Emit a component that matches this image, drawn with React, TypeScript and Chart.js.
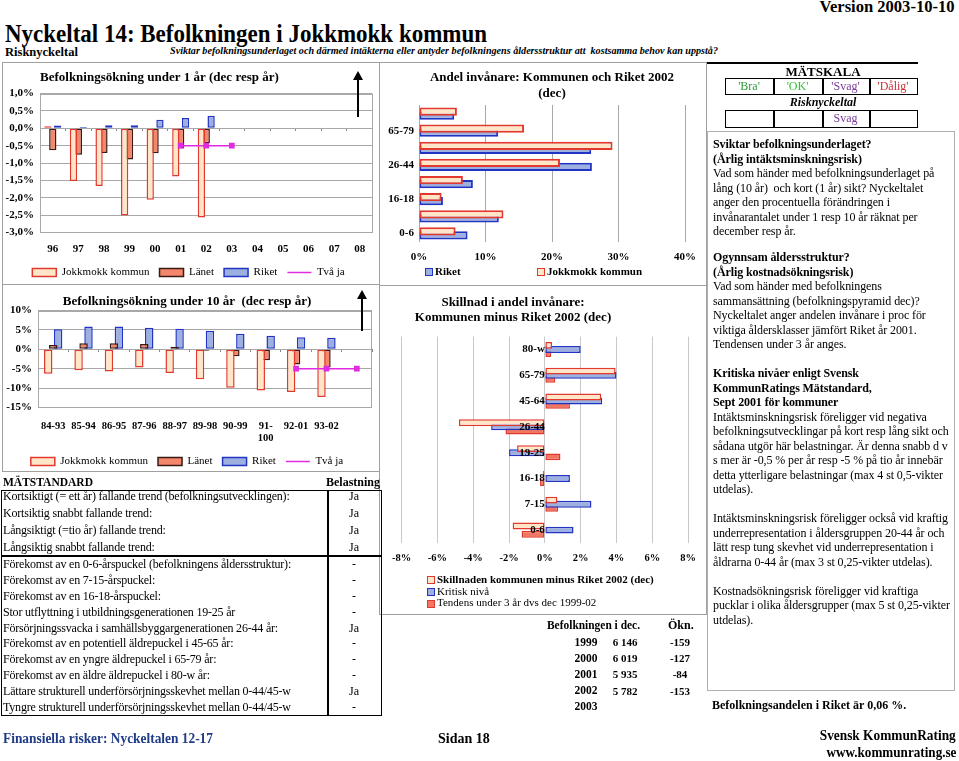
import React, { useEffect, useRef } from 'react';
import { Chart, registerables } from 'chart.js';
Chart.register(...registerables);

const SERIF = "'Liberation Serif', 'Times New Roman', serif";
Chart.defaults.font.family = SERIF;
Chart.defaults.color = '#000';

// ---------- DATA ----------
const YEARS_1 = ['96', '97', '98', '99', '00', '01', '02', '03', '04', '05', '06', '07', '08'];
const JOKK_1 = [0.06, -1.52, -1.66, -2.51, -2.06, -1.39, -2.57, null, null, null, null, null, null];
const LAN_1 = [-0.63, -0.76, -0.71, -0.9, -0.72, -0.58, -0.43, null, null, null, null, null, null];
const RIKET_1 = [0.08, 0.04, 0.09, 0.09, 0.25, 0.3, 0.36, null, null, null, null, null, null];
const TVAJA_1 = [null, null, null, null, null, -0.5, -0.5, -0.5, null, null, null, null, null];

const PERIODS_10: any[] = ['84-93', '85-94', '86-95', '87-96', '88-97', '89-98', '90-99', ['91-', '100'], '92-01', '93-02', ''];
const JOKK_10 = [-6.3, -5.4, -5.7, -4.7, -6.1, -7.7, -9.9, -10.6, -11.0, -12.3, null];
const LAN_10 = [1.1, 1.6, 1.6, 1.4, 0.7, -0.35, -1.8, -2.8, -3.9, -4.7, null];
const RIKET_10 = [5.2, 5.9, 5.9, 5.6, 5.3, 4.8, 4.0, 3.5, 3.1, 3.0, null];
const TVAJA_10 = [null, null, null, null, null, null, null, null, -5, -5, -5];

const AGE_GROUPS = ['80-w', '65-79', '45-64', '26-44', '19-25', '16-18', '7-15', '0-6'];
const SHARE_JOKK = [5.7, 15.8, 29.1, 21.2, 6.6, 3.4, 12.7, 5.5];
const SHARE_RIKET = [5.3, 11.9, 25.9, 26.0, 8.1, 3.6, 12.0, 7.3];
const DIFF = [0.4, 3.95, 3.15, -4.8, -1.55, -0.1, 0.7, -1.8];
const KRITISK = [2.0, 4.0, 3.2, -3.0, -2.0, 1.4, 2.6, 1.6];
const TENDENS = [0.35, 0.58, 1.4, -2.2, 0.87, -0.27, 0.74, -1.3];

const STANDARD_ROWS = [
  'Kortsiktigt (= ett år) fallande trend (befolkningsutvecklingen):',
  'Kortsiktig snabbt fallande trend:',
  'Långsiktigt (=tio år) fallande trend:',
  'Långsiktig snabbt fallande trend:',
  'Förekomst av en 0-6-årspuckel (befolkningens åldersstruktur):',
  'Förekomst av en 7-15-årspuckel:',
  'Förekomst av en 16-18-årspuckel:',
  'Stor utflyttning i utbildningsgenerationen 19-25 år',
  'Försörjningssvacka i samhällsbyggargenerationen 26-44 år:',
  'Förekomst av en potentiell äldrepuckel i 45-65 år:',
  'Förekomst av en yngre äldrepuckel i 65-79 år:',
  'Förekomst av en äldre äldrepuckel i 80-w år:',
  'Lättare strukturell underförsörjningsskevhet mellan 0-44/45-w',
  'Tyngre strukturell underförsörjningsskevhet mellan 0-44/45-w',
];
const STANDARD_VALUES = ['Ja', 'Ja', 'Ja', 'Ja', '-', '-', '-', '-', 'Ja', '-', '-', '-', 'Ja', '-'];

const POP_YEARS = ['1999', '2000', '2001', '2002', '2003'];
const POP_VALUES = ['6 146', '6 019', '5 935', '5 782', ''];
const POP_CHANGE = ['-159', '-127', '-84', '-153', ''];

const SCALE_LABELS = ["'Bra'", "'OK'", "'Svag'", "'Dålig'"];
const SCALE_COLORS = ['#2f9a3a', '#34c234', '#7a3a9a', '#c8323a'];
const RISK_ROW = ['', '', 'Svag', ''];

const RIGHT_BLOCK_1: [string, boolean][] = [
  ['Sviktar befolkningsunderlaget?', true],
  ['(Årlig intäktsminskningsrisk)', true],
  ['Vad som händer med befolkningsunderlaget på', false],
  ['lång (10 år)  och kort (1 år) sikt? Nyckeltalet', false],
  ['anger den procentuella förändringen i', false],
  ['invånarantalet under 1 resp 10 år räknat per', false],
  ['december resp år.', false],
];
const RIGHT_BLOCK_2: [string, boolean][] = [
  ['Ogynnsam åldersstruktur?', true],
  ['(Årlig kostnadsökningsrisk)', true],
  ['Vad som händer med befolkningens', false],
  ['sammansättning (befolkningspyramid dec)?', false],
  ['Nyckeltalet anger andelen invånare i proc för', false],
  ['viktiga åldersklasser jämfört Riket år 2001.', false],
  ['Tendensen under 3 år anges.', false],
  ['', false],
  ['Kritiska nivåer enligt Svensk', true],
  ['KommunRatings Mätstandard,', true],
  ['Sept 2001 för kommuner', true],
  ['Intäktsminskningsrisk föreligger vid negativa', false],
  ['befolkningsutvecklingar på kort resp lång sikt och', false],
  ['sådana utgör här belastningar. Är denna snabb d v', false],
  ['s mer är -0,5 % per år resp -5 % på tio år innebär', false],
  ['detta ytterligare belastningar (max 4 st 0,5-vikter', false],
  ['utdelas).', false],
  ['', false],
  ['Intäktsminskningsrisk föreligger också vid kraftig', false],
  ['underrepresentation i åldersgruppen 20-44 år och', false],
  ['lätt resp tung skevhet vid underrepresentation i', false],
  ['åldrarna 0-44 år (max 3 st 0,25-vikter utdelas).', false],
  ['', false],
  ['Kostnadsökningsrisk föreligger vid kraftiga', false],
  ['pucklar i olika åldersgrupper (max 5 st 0,25-vikter', false],
  ['utdelas).', false],
];

// ---------- STYLE ----------
const PEACH = '#FFE6C9';
const RED = '#E2392F';
const SALMON = '#F4866C';
const DARK = '#3a1a12';
const BLUE_FILL = '#9DB0E0';
const BLUE = '#2234C4';
const MAGENTA = '#E02CE0';
const GRID = '#A8A8A8';
const GRID_LIGHT = '#C8C8C8';
const TENDENS_FILL = '#F27762';

const mctx: any = document.createElement('canvas').getContext('2d');
function measure(text: string, font: string) {
  mctx.font = font;
  return mctx.measureText(text).width;
}

function Txt({ x, y, text, size = 12, bold = false, italic = false, color = '#000', align = 'left', w, ls }: any) {
  const font = `${italic ? 'italic ' : ''}${bold ? 'bold ' : ''}${size}px ${SERIF}`;
  let sx = 1;
  if (w) sx = w / measure(text, font);
  const style: any = {
    position: 'absolute',
    top: y - size * 0.55,
    fontFamily: SERIF,
    fontSize: size,
    fontWeight: bold ? 'bold' : 'normal',
    fontStyle: italic ? 'italic' : 'normal',
    lineHeight: `${size}px`,
    whiteSpace: 'pre',
    color,
  };
  if (ls) style.letterSpacing = ls;
  if (align === 'left') {
    style.left = x;
    style.transformOrigin = 'left center';
    style.transform = `scaleX(${sx})`;
  } else if (align === 'right') {
    style.right = 959 - x;
    style.transformOrigin = 'right center';
    style.transform = `scaleX(${sx})`;
  } else {
    style.left = x;
    style.transformOrigin = 'center';
    style.transform = `translateX(-50%) scaleX(${sx})`;
  }
  return <div style={style}>{text}</div>;
}

function Box({ x1, y1, x2, y2, color = '#999', w = 1 }: any) {
  return (
    <div
      style={{
        position: 'absolute',
        left: x1,
        top: y1,
        width: x2 - x1,
        height: y2 - y1,
        border: `${w}px solid ${color}`,
        boxSizing: 'border-box',
      }}
    />
  );
}
function HL({ x1, x2, y, color = '#999', w = 1 }: any) {
  return <div style={{ position: 'absolute', left: x1, top: y, width: x2 - x1, height: w, background: color }} />;
}
function VL({ x, y1, y2, color = '#999', w = 1 }: any) {
  return <div style={{ position: 'absolute', left: x, top: y1, width: w, height: y2 - y1, background: color }} />;
}

const plotBorder = {
  id: 'plotBorder',
  beforeDatasetsDraw(chart: any, _args: any, opts: any) {
    if (!opts || !opts.color) return;
    const { ctx, chartArea: a } = chart;
    ctx.save();
    ctx.strokeStyle = opts.color;
    ctx.lineWidth = 1;
    ctx.strokeRect(Math.round(a.left) + 0.5, Math.round(a.top) + 0.5, Math.round(a.width) - 1, Math.round(a.height) - 1);
    ctx.restore();
  },
};

const legendLabels = (chart: any) => {
  const items = (Chart.defaults.plugins.legend.labels as any).generateLabels(chart);
  return items.map((it: any) => {
    const ds = chart.data.datasets[it.datasetIndex];
    return { ...it, pointStyle: ds.type === 'line' ? 'line' : 'rect' };
  });
};

const tickFont = (size = 11) => ({ size, weight: 'bold' as const });

function ChartCanvas({ left, top, width, height, make }: any) {
  const ref = useRef<HTMLCanvasElement>(null);
  useEffect(() => {
    const chart = new Chart(ref.current as any, make());
    return () => chart.destroy();
  }, []);
  return (
    <canvas
      ref={ref}
      width={width}
      height={height}
      style={{ position: 'absolute', left, top, width, height }}
    />
  );
}

function barDs(label: string, data: any[], bg: string, border: string, bw = 1.5) {
  return { label, data, backgroundColor: bg, borderColor: border, borderWidth: bw, borderSkipped: false };
}

function lineDs(label: string, data: any[]) {
  return {
    type: 'line',
    label,
    data,
    borderColor: MAGENTA,
    backgroundColor: MAGENTA,
    borderWidth: 1.5,
    pointStyle: 'rect',
    pointRadius: 3,
    order: -1,
  };
}

function growthChart(opts: any) {
  return () => ({
    type: 'bar',
    data: {
      labels: opts.labels,
      datasets: [
        barDs('Jokkmokk kommun', opts.jokk, PEACH, RED),
        barDs('Länet', opts.lan, SALMON, DARK),
        barDs('Riket', opts.riket, BLUE_FILL, BLUE),
        lineDs('Två ja', opts.tva),
      ],
    },
    options: {
      responsive: false,
      animation: false,
      datasets: { bar: { categoryPercentage: opts.catPct, barPercentage: opts.barPct } },
      layout: { padding: { right: opts.padRight } },
      plugins: {
        title: {
          display: true,
          text: opts.title,
          align: opts.titleAlign,
          fullSize: opts.titleFull,
          color: '#000',
          font: { size: 13, weight: 'bold' },
          padding: opts.titlePad,
        },
        legend: {
          position: 'bottom',
          labels: {
            usePointStyle: true,
            pointStyleWidth: 24,
            boxHeight: 8,
            padding: 10,
            color: '#000',
            font: { size: 11 },
            generateLabels: legendLabels,
            sort: (a: any, b: any) => a.datasetIndex - b.datasetIndex,
          },
        },
        tooltip: { enabled: false },
        plotBorder: { color: GRID },
      },
      scales: {
        x: {
          grid: { display: false, drawTicks: false },
          border: { display: false },
          ticks: { font: tickFont(opts.xFont), padding: opts.xPad, autoSkip: false, maxRotation: 0, color: '#000' },
          afterFit: (s: any) => {
            s.height = opts.xHeight;
          },
        },
        x2: {
          type: 'category',
          position: { y: 0 },
          offset: true,
          grid: { offset: true, drawOnChartArea: false, tickLength: 3, color: '#888' },
          border: { display: false },
          ticks: { display: false },
        },
        y: {
          min: opts.min,
          max: opts.max,
          ticks: { stepSize: opts.step, callback: opts.fmt, font: tickFont(11), padding: 6, color: '#000' },
          grid: { color: GRID, drawTicks: false },
          border: { display: false },
          afterFit: (s: any) => {
            s.width = opts.yWidth;
          },
        },
      },
    },
    plugins: [plotBorder],
  });
}

const makeChart1 = growthChart({
  labels: YEARS_1,
  jokk: JOKK_1,
  lan: LAN_1,
  riket: RIKET_1,
  tva: TVAJA_1,
  catPct: 0.57,
  barPct: 1.5,
  padRight: 3,
  title: 'Befolkningsökning under 1 år (dec resp år)',
  titleAlign: 'start',
  titleFull: false,
  titlePad: { top: 6, bottom: 8 },
  xFont: 11,
  xPad: 10,
  xHeight: 24.5,
  min: -3,
  max: 1,
  step: 0.5,
  fmt: (v: number) => v.toFixed(1).replace('.', ',') + '%',
  yWidth: 38,
});

const makeChart2 = growthChart({
  labels: PERIODS_10,
  jokk: JOKK_10,
  lan: LAN_10,
  riket: RIKET_10,
  tva: TVAJA_10,
  catPct: 0.49,
  barPct: 1.7,
  padRight: 6,
  title: 'Befolkningsökning under 10 år  (dec resp år)',
  titleAlign: 'center',
  titleFull: true,
  titlePad: { top: 8, bottom: 1 },
  xFont: 10.5,
  xPad: 12,
  xHeight: 38.5,
  min: -15,
  max: 10,
  step: 5,
  fmt: (v: number) => v + '%',
  yWidth: 36,
});

const makeChart3 = () => ({
  type: 'bar',
  data: {
    labels: AGE_GROUPS,
    datasets: [
      barDs('Jokkmokk kommun', SHARE_JOKK, PEACH, RED, 2),
      barDs('Riket', SHARE_RIKET, BLUE_FILL, BLUE, 2),
    ],
  },
  options: {
    indexAxis: 'y',
    responsive: false,
    animation: false,
    datasets: { bar: { categoryPercentage: 0.47, barPercentage: 2.05 } },
    layout: { padding: { right: 4 } },
    plugins: {
      title: {
        display: true,
        text: ['Andel invånare: Kommunen och Riket 2002', '(dec)'],
        fullSize: false,
        color: '#000',
        font: { size: 13, weight: 'bold', lineHeight: 1.23 },
        padding: { top: 6, bottom: 3 },
      },
      legend: { display: false },
      tooltip: { enabled: false },
    },
    scales: {
      x: {
        min: 0,
        max: 40,
        ticks: { stepSize: 10, callback: (v: number) => v + '%', font: tickFont(11), padding: 9, color: '#000' },
        grid: { color: GRID, drawTicks: false },
        border: { display: false },
        afterFit: (s: any) => {
          s.height = 24;
        },
      },
      y: {
        ticks: {
          autoSkip: false,
          callback: (_v: any, i: number) => (i % 2 === 1 ? AGE_GROUPS[i] : ''),
          font: tickFont(11),
          padding: 5,
          color: '#000',
        },
        grid: { display: false, drawTicks: false },
        border: { display: false },
        afterFit: (s: any) => {
          s.width = 36;
        },
      },
    },
  },
});

const makeChart4 = () => ({
  type: 'bar',
  data: {
    labels: AGE_GROUPS,
    datasets: [
      barDs('Skillnaden kommunen minus Riket 2002 (dec)', DIFF, PEACH, RED, 1.5),
      barDs('Kritisk nivå', KRITISK, BLUE_FILL, BLUE, 1.5),
      barDs('Tendens under 3 år dvs dec 1999-02', TENDENS, TENDENS_FILL, RED, 1.5),
    ],
  },
  options: {
    indexAxis: 'y',
    responsive: false,
    animation: false,
    datasets: { bar: { categoryPercentage: 0.48, barPercentage: 1.67 } },
    layout: { padding: { left: 3, right: 6, top: 6 } },
    plugins: { legend: { display: false }, tooltip: { enabled: false } },
    scales: {
      x: {
        min: -8,
        max: 8,
        ticks: { stepSize: 2, callback: (v: number) => v + '%', font: tickFont(10.5), padding: 9, color: '#000' },
        grid: { color: GRID_LIGHT, drawTicks: false },
        border: { display: false },
        afterFit: (s: any) => {
          s.height = 24;
        },
      },
      y: {
        position: { x: 0 },
        ticks: { font: tickFont(11), padding: 0, color: '#000', autoSkip: false, z: 1 },
        grid: { display: false, drawTicks: false },
        border: { display: false },
      },
    },
  },
});

function LegendSwatch({ x, y, fill, border }: any) {
  return (
    <div
      style={{
        position: 'absolute',
        left: x,
        top: y - 4,
        width: 8,
        height: 8,
        background: fill,
        border: `1.5px solid ${border}`,
        boxSizing: 'border-box',
      }}
    />
  );
}

function Arrows() {
  return (
    <svg width={959} height={761} style={{ position: 'absolute', left: 0, top: 0, pointerEvents: 'none' }}>
      <line x1={358} y1={117} x2={358} y2={78} stroke="#000" strokeWidth={2} />
      <polygon points="353,80 363,80 358,71" fill="#000" />
      <line x1={362} y1={331} x2={362} y2={297} stroke="#000" strokeWidth={2} />
      <polygon points="357,299 367,299 362,290" fill="#000" />
    </svg>
  );
}

export default function App() {
  const rowYs = STANDARD_ROWS.map((_, i) => (i < 4 ? 497 + i * 16.8 : 564.5 + (i - 4) * 15.9));
  const cellXs = [725, 773, 822, 869, 917];
  return (
    <div
      style={{
        position: 'absolute',
        left: 0,
        top: 0,
        width: 959,
        height: 761,
        background: '#fff',
        overflow: 'hidden',
        fontFamily: SERIF,
      }}
    >
      {/* Header */}
      <Txt x={955} y={8} text="Version 2003-10-10" size={16} bold align="right" w={135} />
      <Txt x={5} y={35} text="Nyckeltal 14: Befolkningen i Jokkmokk kommun" size={25} bold w={482} />
      <Txt x={5} y={52} text="Risknyckeltal" size={13} bold w={73} />
      <Txt
        x={170}
        y={52}
        text="Sviktar befolkningsunderlaget och därmed intäkterna eller antyder befolkningens åldersstruktur att  kostsamma behov kan uppstå?"
        size={10.5}
        bold
        italic
        w={548}
      />

      {/* Panel frames */}
      <Box x1={2} y1={62} x2={380} y2={472} color="#a0a0a0" />
      <HL x1={2} x2={380} y={284} color="#a0a0a0" />
      <Box x1={379} y1={62} x2={707} y2={615} color="#a0a0a0" />
      <HL x1={379} x2={707} y={285} color="#a0a0a0" />
      <HL x1={707} x2={918} y={62} color="#000" w={1.5} />
      <Box x1={707} y1={131} x2={955} y2={691} color="#b0b0b0" />

      {/* Charts */}
      <ChartCanvas left={2} top={64} width={376} height={224} make={makeChart1} />
      <ChartCanvas left={2} top={286} width={376} height={191} make={makeChart2} />
      <ChartCanvas left={383} top={64} width={322} height={202} make={makeChart3} />
      <ChartCanvas left={383} top={330} width={322} height={237} make={makeChart4} />
      <Arrows />

      {/* Chart 3 legend */}
      <LegendSwatch x={425} y={272} fill={BLUE_FILL} border={BLUE} />
      <Txt x={435} y={272} text="Riket" size={11} bold />
      <LegendSwatch x={537} y={272} fill={PEACH} border={RED} />
      <Txt x={547} y={272} text="Jokkmokk kommun" size={11} bold />

      {/* Chart 4 title + legend */}
      <Txt x={513} y={302} text="Skillnad i andel invånare:" size={13} bold align="center" />
      <Txt x={513} y={317} text="Kommunen minus Riket 2002 (dec)" size={13} bold align="center" />
      <LegendSwatch x={427} y={580} fill={PEACH} border={RED} />
      <Txt x={437} y={580} text="Skillnaden kommunen minus Riket 2002 (dec)" size={11} bold />
      <LegendSwatch x={427} y={592} fill={BLUE_FILL} border={BLUE} />
      <Txt x={437} y={592} text="Kritisk nivå" size={11} />
      <LegendSwatch x={427} y={603.5} fill={TENDENS_FILL} border={RED} />
      <Txt x={437} y={603.5} text="Tendens under 3 år dvs dec 1999-02" size={11} />

      {/* MÄTSTANDARD table */}
      <Txt x={3} y={483} text="MÄTSTANDARD" size={12} bold w={90} />
      <Txt x={326} y={483} text="Belastning" size={12} bold w={54} />
      <Box x1={1} y1={490} x2={382} y2={716} color="#000" w={1.5} />
      <VL x={327} y1={490} y2={716} color="#000" w={1.5} />
      <HL x1={1} x2={382} y={555} color="#000" w={1.5} />
      {STANDARD_ROWS.map((r, i) => (
        <Txt key={'r' + i} x={3} y={rowYs[i]} text={r} size={12} ls="-0.2px" />
      ))}
      {STANDARD_VALUES.map((v, i) => (
        <Txt key={'v' + i} x={354} y={rowYs[i]} text={v} size={12} align="center" />
      ))}

      {/* Population table */}
      <Txt x={547} y={626} text="Befolkningen i dec." size={12} bold w={93} />
      <Txt x={668} y={626} text="Ökn." size={12} bold />
      {POP_YEARS.map((yv, i) => (
        <Txt key={'py' + i} x={586} y={643 + i * 16.2} text={yv} size={11.5} bold align="center" />
      ))}
      {POP_VALUES.map((v, i) => (
        <Txt key={'pv' + i} x={625} y={643 + i * 16.2} text={v} size={11} bold align="center" />
      ))}
      {POP_CHANGE.map((v, i) => (
        <Txt key={'pc' + i} x={680} y={643 + i * 16.2} text={v} size={11} bold align="center" />
      ))}

      {/* MÄTSKALA */}
      <Txt x={823} y={72} text="MÄTSKALA" size={13} bold align="center" />
      <Box x1={725} y1={78} x2={918} y2={95} color="#000" w={1.5} />
      <Box x1={725} y1={110} x2={918} y2={128} color="#000" w={1.5} />
      {[773, 822, 869].map((x) => (
        <React.Fragment key={'c' + x}>
          <VL x={x} y1={78} y2={95} color="#000" w={1.5} />
          <VL x={x} y1={110} y2={128} color="#000" w={1.5} />
        </React.Fragment>
      ))}
      {SCALE_LABELS.map((s, i) => (
        <Txt key={'s' + i} x={(cellXs[i] + cellXs[i + 1]) / 2} y={86.5} text={s} size={12} color={SCALE_COLORS[i]} align="center" />
      ))}
      <Txt x={823} y={103} text="Risknyckeltal" size={12} bold italic align="center" />
      {RISK_ROW.map((s, i) =>
        s ? (
          <Txt key={'k' + i} x={(cellXs[i] + cellXs[i + 1]) / 2} y={119} text={s} size={12} color={SCALE_COLORS[i]} align="center" />
        ) : null
      )}

      {/* Right text column */}
      {RIGHT_BLOCK_1.map(([t, b], i) => (
        <Txt key={'a' + i} x={713} y={145 + i * 14.5} text={t} size={12} bold={b} ls="-0.1px" />
      ))}
      {RIGHT_BLOCK_2.map(([t, b], i) => (
        <Txt key={'b' + i} x={713} y={258 + i * 14.5} text={t} size={12} bold={b} ls="-0.1px" />
      ))}
      <Txt x={712} y={706} text="Befolkningsandelen i Riket är 0,06 %." size={12} bold />

      {/* Footer */}
      <Txt x={3} y={740} text="Finansiella risker: Nyckeltalen 12-17" size={14} bold color="#1F3A86" w={210} />
      <Txt x={438} y={740} text="Sidan 18" size={14} bold />
      <Txt x={956} y={737} text="Svensk KommunRating" size={14} bold align="right" w={136} />
      <Txt x={956} y={754} text="www.kommunrating.se" size={14} bold align="right" w={130} />
    </div>
  );
}
